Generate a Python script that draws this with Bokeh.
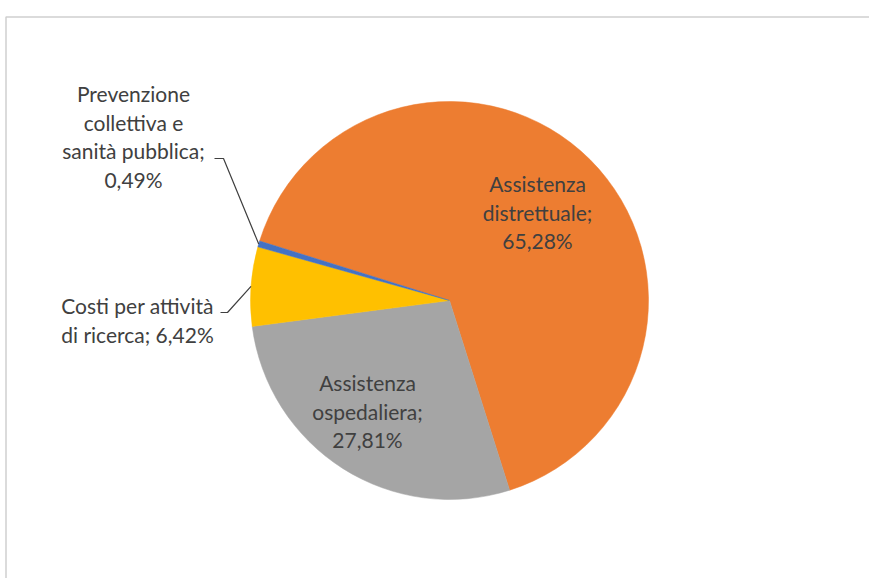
import math
from bokeh.plotting import figure
from bokeh.models import ColumnDataSource, Range1d
from bokeh.core.properties import value
from bokeh.embed import file_html
from bokeh.resources import INLINE

# ---- data ----
categories = ["Assistenza distrettuale", "Assistenza ospedaliera",
              "Costi per attività di ricerca", "Prevenzione collettiva e sanità pubblica"]
shares = [65.28, 27.81, 6.42, 0.49]
label_texts = ["Assistenza\ndistrettuale;\n65,28%",
               "Assistenza\nospedaliera;\n27,81%",
               "Costi per attività\ndi ricerca; 6,42%",
               "Prevenzione\ncollettiva e\nsanità pubblica;\n0,49%"]
colors = ["#ED7D31", "#A5A5A5", "#FFC000", "#4472C4"]

# ---- layout (page pixel coordinates, y as -page_y) ----
W, H = 869, 578
OFF = 0
CX, CY, R = 449, -300, 199
START_DEG = 162.6
label_anchor = [(537, -183), (367, -382), (137, -305), (133, -93)]  # first line centers
line_step = 28.5
leader_knee = {2: [(220, -312), (227, -312)], 3: [(214, -158), (223, -158)]}

total = sum(shares)
starts, ends, mids = [], [], []
cum = 0.0
a0 = math.radians(START_DEG)
for s in shares:
    st = a0 - 2 * math.pi * cum / total
    cum += s
    en = a0 - 2 * math.pi * cum / total
    starts.append(st)
    ends.append(en)
    mids.append((st + en) / 2)

p = figure(width=W, height=H, output_backend="svg", toolbar_location=None,
           x_axis_type=None, y_axis_type=None, min_border=0,
           x_range=Range1d(OFF, OFF + W), y_range=Range1d(-OFF - H, -OFF))
p.grid.visible = False
p.outline_line_color = None
p.background_fill_color = "white"
p.border_fill_color = "white"

# frame (gray border, top and left)
p.line([5.5, 5.5, 900], [-900, -16.5, -16.5], line_color="#cfcfcf", line_width=1.5)

src = ColumnDataSource(dict(cat=categories, share=shares, start=starts, end=ends, color=colors))
p.wedge(x=CX, y=CY, radius=R, start_angle="start", end_angle="end", direction="clock",
        fill_color="color", line_color="color", line_width=0.5, source=src)

# leader lines
for i, knee in leader_knee.items():
    ex = CX + R * math.cos(mids[i])
    ey = CY + R * math.sin(mids[i])
    xs = [knee[0][0], knee[1][0], ex]
    ys = [knee[0][1], knee[1][1], ey]
    p.line(xs, ys, line_color="#404040", line_width=1.2)

# labels
tx, ty, tt = [], [], []
for (ax, ay), lab in zip(label_anchor, label_texts):
    for k, ln in enumerate(lab.split("\n")):
        tx.append(ax)
        ty.append(ay - k * line_step)
        tt.append(ln)
p.text(x=tx, y=ty, text=tt, text_align="center", text_baseline="middle",
       text_font=value("Lato"), text_font_size="21px", text_color="#404040")

open("out.html", "w").write(file_html(p, INLINE))
